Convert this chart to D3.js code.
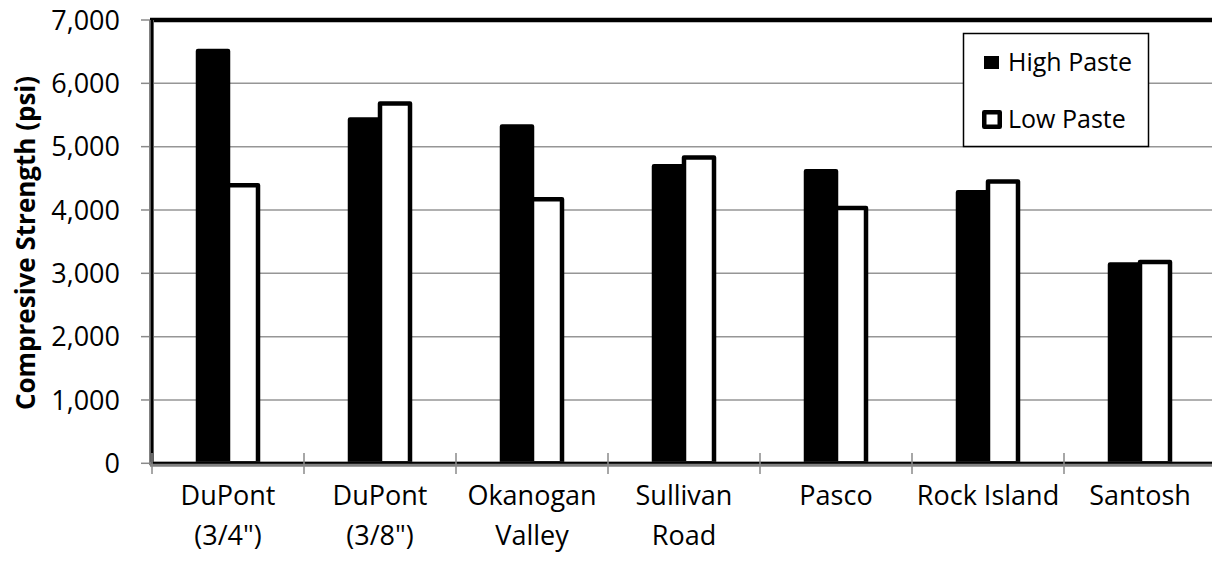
<!DOCTYPE html>
<html>
<head>
<meta charset="utf-8">
<script src="https://cdn.jsdelivr.net/npm/d3@7"></script>
<style>
  html, body { margin: 0; padding: 0; background: #fff; }
  svg { display: block; font-family: "Open Sans", sans-serif; }
</style>
</head>
<body>
<svg id="chart" width="1212" height="561"></svg>
<script>
// ---- Data ----
const categories = [["DuPont", "(3/4\")"], ["DuPont", "(3/8\")"], ["Okanogan", "Valley"], ["Sullivan", "Road"], ["Pasco"], ["Rock Island"], ["Santosh"]];
const seriesNames = ["High Paste", "Low Paste"];
const highPaste = [6510, 5430, 5320, 4690, 4610, 4280, 3140];
const lowPaste  = [4390, 5680, 4170, 4830, 4030, 4450, 3180];
const yTicks = [0, 1000, 2000, 3000, 4000, 5000, 6000, 7000];

(function () {
// ---- Layout ----
const svg = d3.select("#chart");
const pL = 152, pR = 1216, pT = 20, pB = 463.3;
const catIdx = categories.map((d, i) => i);

const x = d3.scaleBand().domain(catIdx).range([pL, pR]).paddingInner(0).paddingOuter(0);
const barW = 30;
const xs = d3.scaleBand().domain(seriesNames).range([0, 2 * barW]);
const y = d3.scaleLinear().domain([0, 7000]).range([pB, pT]);

// Gridlines
svg.append("g").selectAll("line").data(yTicks.filter(t => t > 0)).join("line")
  .attr("x1", pL).attr("x2", 1212)
  .attr("y1", d => y(d)).attr("y2", d => y(d))
  .attr("stroke", "#969696").attr("stroke-width", 1.5);

// Y axis ticks and labels
const yAxis = svg.append("g");
yAxis.selectAll("line").data(yTicks).join("line")
  .attr("x1", 141).attr("x2", 151)
  .attr("y1", d => y(d)).attr("y2", d => y(d))
  .attr("stroke", "#8a8a8a").attr("stroke-width", 1.5);
yAxis.selectAll("text").data(yTicks).join("text")
  .attr("x", 120).attr("y", d => y(d) + 9.6)
  .attr("text-anchor", "end")
  .attr("font-size", 27)
  .attr("fill", "#000")
  .text(d => d3.format(",")(d));

// Bars
const series = [
  { name: seriesNames[0], values: highPaste, fill: "#000" },
  { name: seriesNames[1], values: lowPaste, fill: "#fff" }
];
const barsG = svg.append("g");
series.forEach(s => {
  barsG.append("g").selectAll("rect").data(s.values).join("rect")
    .attr("x", (d, i) => x(i) + x.bandwidth() / 2 - barW + xs(s.name))
    .attr("width", xs.bandwidth())
    .attr("y", d => y(d))
    .attr("height", d => y(0) - y(d))
    .attr("fill", s.fill)
    .attr("stroke", "#000")
    .attr("stroke-width", 4.5)
    .attr("stroke-linejoin", "round");
});

// Plot border / axes
svg.append("line").attr("x1", 150).attr("x2", 1212).attr("y1", pT).attr("y2", pT)
  .attr("stroke", "#000").attr("stroke-width", 4.5);
svg.append("line").attr("x1", 151.5).attr("x2", 151.5).attr("y1", pT).attr("y2", pB + 2)
  .attr("stroke", "#808080").attr("stroke-width", 5);
svg.append("line").attr("x1", 152).attr("x2", 152).attr("y1", pT).attr("y2", pB)
  .attr("stroke", "#000").attr("stroke-width", 2.5);
svg.append("line").attr("x1", 150).attr("x2", 1212).attr("y1", pB + 1).attr("y2", pB + 1)
  .attr("stroke", "#808080").attr("stroke-width", 5);
svg.append("line").attr("x1", 151).attr("x2", 1212).attr("y1", pB - 0.5).attr("y2", pB - 0.5)
  .attr("stroke", "#000").attr("stroke-width", 2);

// X ticks at category boundaries
const bounds = catIdx.map(i => x(i));
svg.append("g").selectAll("line").data(bounds).join("line")
  .attr("x1", d => d).attr("x2", d => d)
  .attr("y1", 453).attr("y2", 474)
  .attr("stroke", "#8a8a8a").attr("stroke-width", 1.5);

// Category labels
const catG = svg.append("g");
categories.forEach((lines, i) => {
  lines.forEach((ln, j) => {
    catG.append("text")
      .attr("x", x(i) + x.bandwidth() / 2)
      .attr("y", 505 + j * 40)
      .attr("text-anchor", "middle")
      .attr("font-size", 27)
      .text(ln);
  });
});

// Y axis title
svg.append("text")
  .attr("transform", "translate(35,243) rotate(-90)")
  .attr("text-anchor", "middle")
  .attr("font-size", 26)
  .attr("font-weight", "bold")
  .text("Compresive Strength (psi)");

// Legend
const lg = svg.append("g");
lg.append("rect").attr("x", 963.5).attr("y", 33.5).attr("width", 185).attr("height", 113)
  .attr("fill", "#fff").attr("stroke", "#000").attr("stroke-width", 1.5);
const legendY = [62.5, 119.5];
series.forEach((s, i) => {
  if (i === 0) {
    lg.append("rect").attr("x", 984).attr("y", legendY[i] - 6.5).attr("width", 15).attr("height", 13)
      .attr("fill", "#000");
  } else {
    lg.append("rect").attr("x", 984.25).attr("y", legendY[i] - 7.25).attr("width", 15.5).attr("height", 14.5)
      .attr("fill", "#fff").attr("stroke", "#000").attr("stroke-width", 4.5).attr("stroke-linejoin", "round");
  }
  lg.append("text").attr("x", 1008).attr("y", legendY[i] + 8.8)
    .attr("font-size", 25).text(s.name);
});
})();
</script>
</body>
</html>
